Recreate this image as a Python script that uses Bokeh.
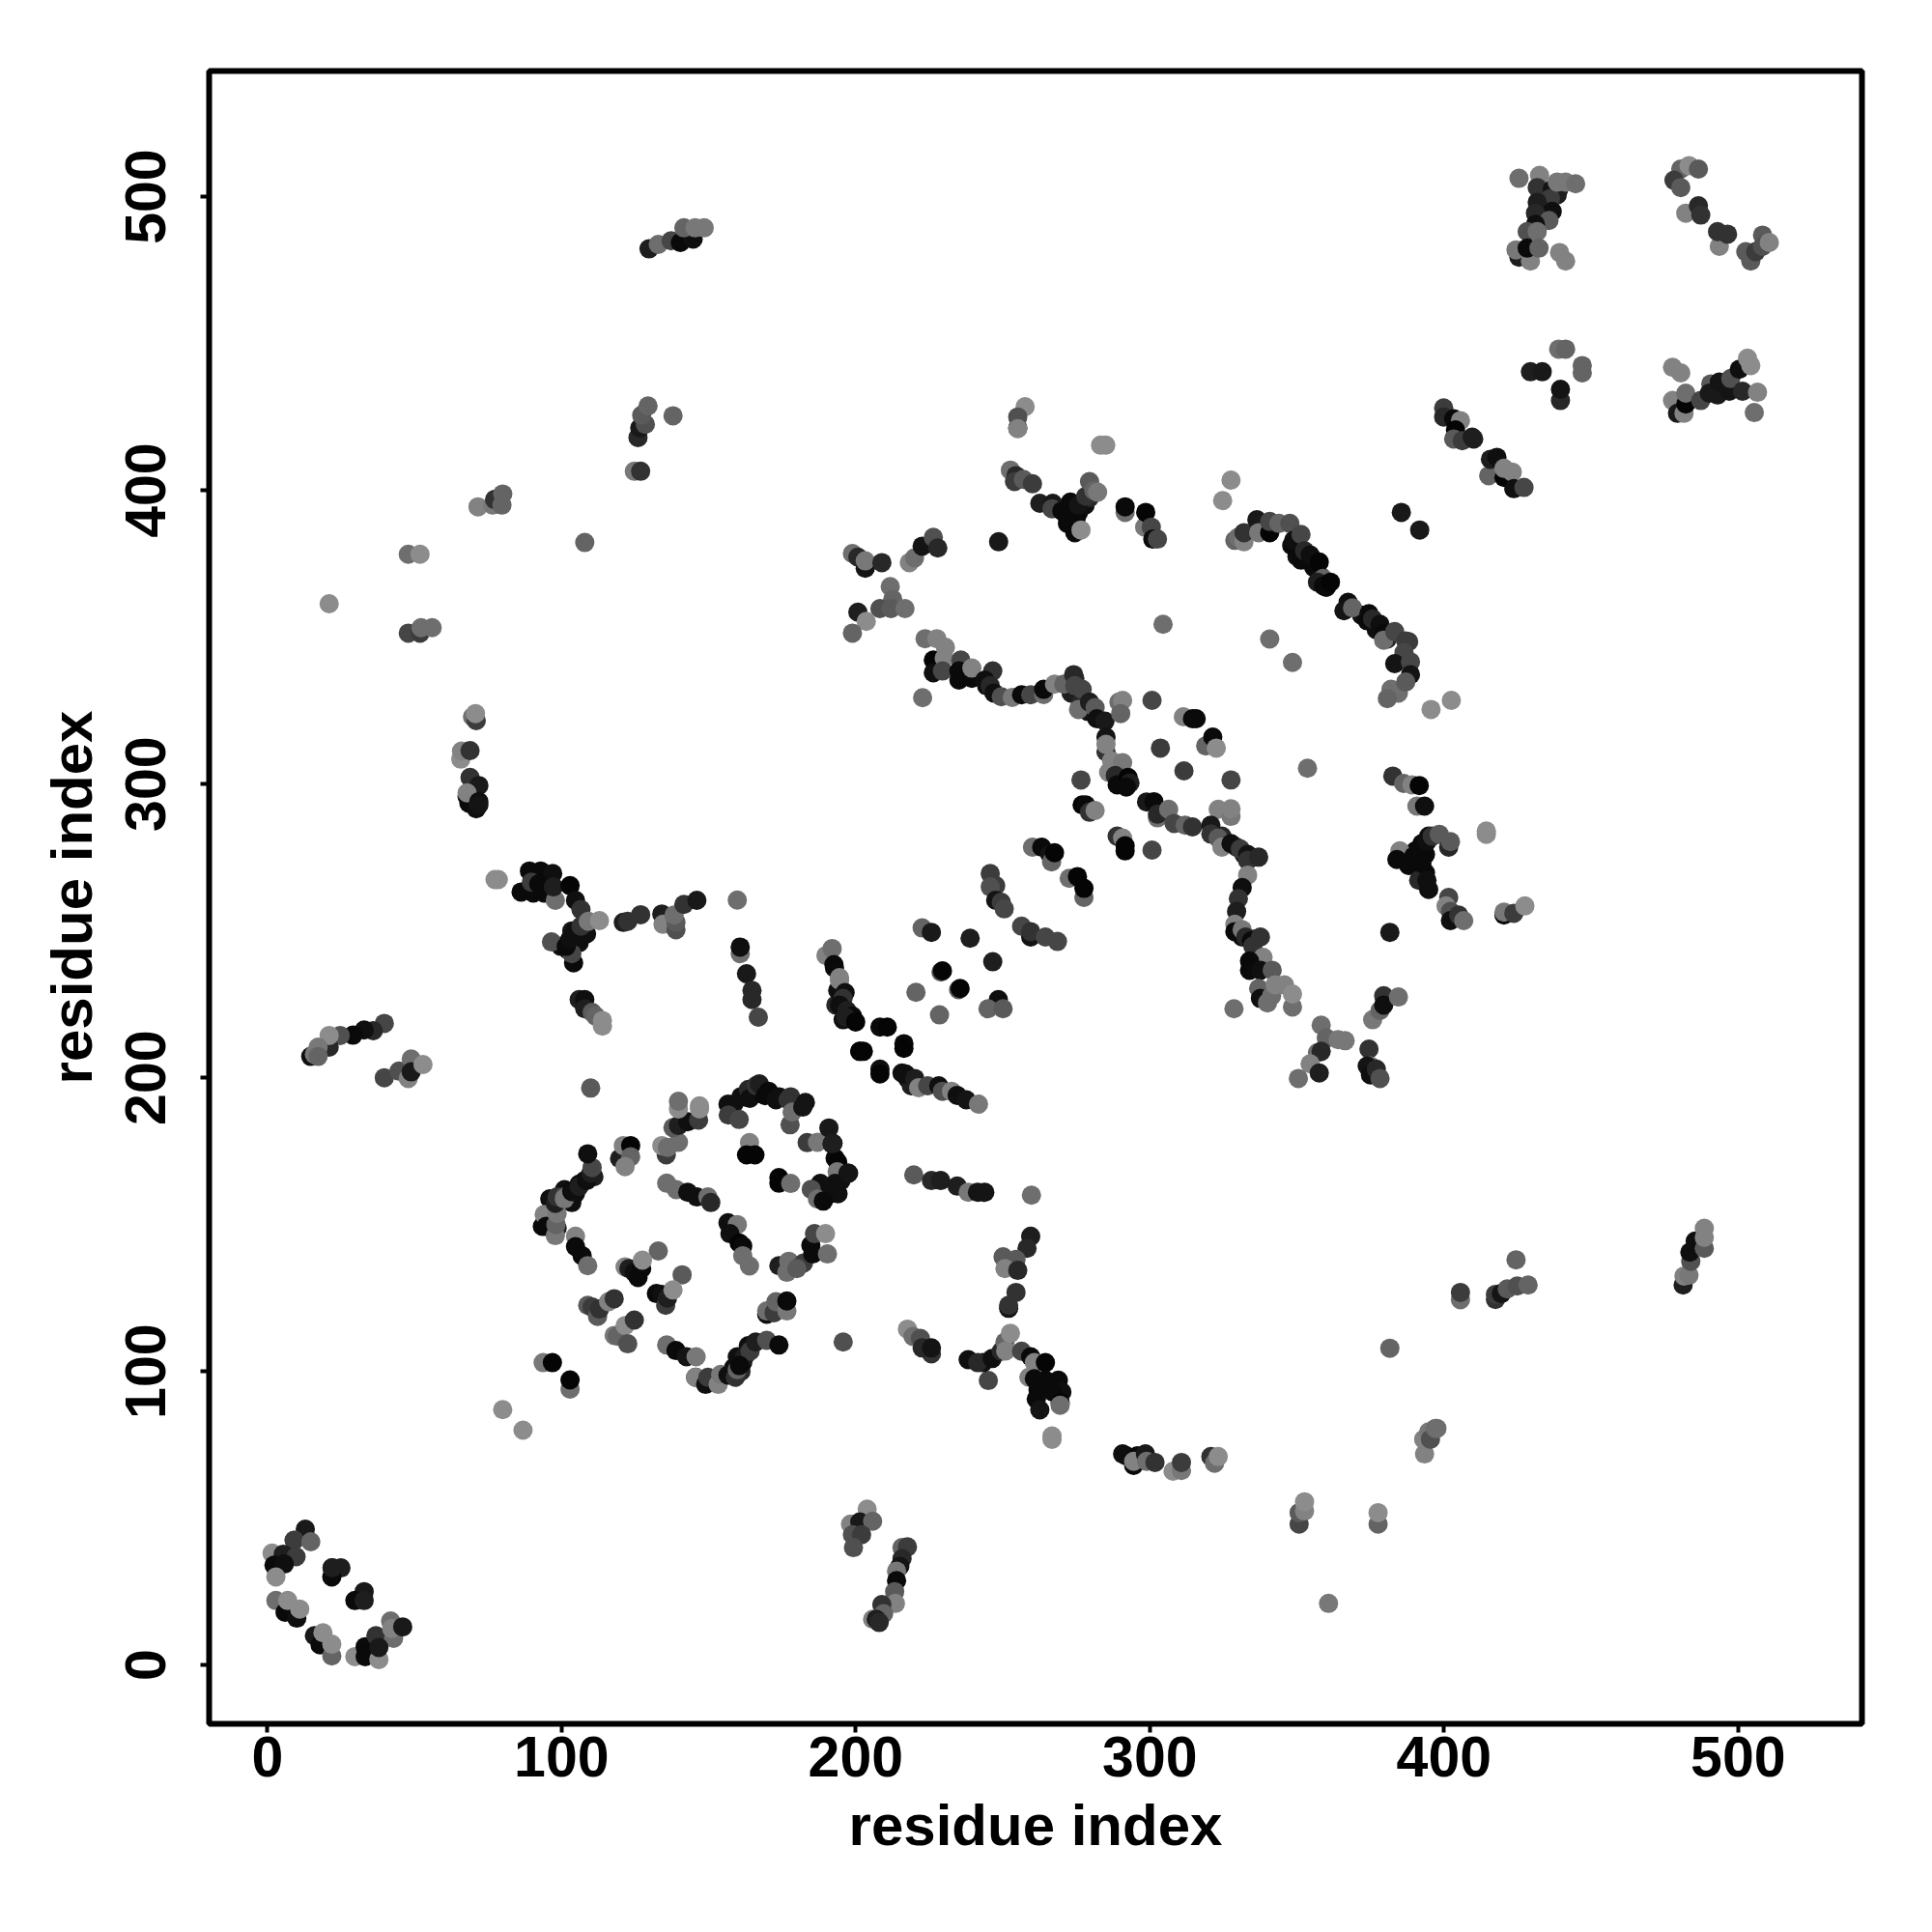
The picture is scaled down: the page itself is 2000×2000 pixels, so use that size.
from bokeh.plotting import figure
from bokeh.models import ColumnDataSource, FixedTicker, Range1d
from bokeh.embed import file_html
from bokeh.resources import INLINE

# (x residue, y residue, grey level 0-255), drawn in order
dense_under = [(96,158.75,15),(101,161.9,15),(104.75,160.6,15),(107.9,165,15),(111,166.25,30),(103.5,157.5,15),(97.9,152.5,40),(98.5,148.75,30),(93.5,149.4,10),
 (188,164,15),(190.5,160,15),(192,163,40),(195,165,15),(194,160.5,15),(156.6,191,15),(162.25,193.5,15),(159.75,105,15),(163.5,108.75,15),(158.5,101.25,15),(161,100,40),
 (99.75,244.75,15),(102.25,243.5,10),(106,246,15),(108.5,249,15),(103.5,250,20),(270,393.75,10),(273,396,10),(275.75,392.5,15),(278,395,15),(279.5,397.5,40),(272,388.75,10),(275,390.6,10),
 (390.3,277.25,10),(392.5,279.75,10),(394.8,282.25,15),(389,273.5,10),(391.4,274.75,10),(393.7,276,10),(391.4,271,10),(393.7,269.75,10),
 (348.25,381.25,15),(350,377.5,15),(353.25,376.25,15),(355.75,373.75,10),(358.25,370.6,15),(360,367,10),(372,357.5,15),(373.9,355.6,10),(377,352.5,15),(380.75,349.4,40),
 (274.5,336,40),(277,329,40),(278.9,324.75,20),(273.25,331,30),(276.4,327.25,40),(244.5,333.5,15),(324.5,282.25,40),(329.5,278.5,40),(332,276,30),(329.5,249.75,15),(331.4,247.9,15),(335.75,247.25,30),
 (433.4,498.75,20),(435.7,497.5,30),(434.5,493,20),(432.8,491.25,30),(439,502.5,40),(195.75,219.75,15),(193.25,224.75,40),(193.9,229.75,15),(215.75,201.6,15),(217.6,199.75,15),(218.9,197.25,30)]
corner_a = [(12.9,46.25,25),(9.1,42.5,110),(9.1,42.5,60),(14.75,42,100),(1.6,38.1,140),(5.4,37.75,30),(9.75,36.9,60),(2.25,34,10),(5.75,34.4,15),(2.9,30,140),
 (22,33.1,30),(25,33.1,30),(21.9,30,10),(22,33.1,30),(32.9,25,25),(29.75,22,10),(32.9,22,30),(2.9,22,110),(6,18,10),(10,16,15),(6.9,22,140),(11,19.1,140),
 (16,10,25),(17.9,6.9,10),(18.9,11,140),(21.9,3.1,100),(21.9,7.1,140),(29.75,2.9,140),(33.25,6.25,10),(33.25,2.9,10),(37.9,1.9,140),(36.9,10,50),(42.9,9.1,110),(37.9,6,25),(41.9,15,110),(42.25,12.5,130),(46,13,25)]
strays_a = [(80,87,140),(86.9,80,140),(93.75,103,120),(96.9,103,5),(102.9,94,110),(102.9,97.1,5),(107.9,382.25,100),(47.9,378.25,110),(51.9,378.25,140),(21,361.4,140),(109.9,196.5,90),
 (222.75,329.4,110),(353.6,305.4,110),(304.5,354.4,110),(340.75,349.4,110),(348.5,341.4,110),(381.6,249.5,25),(360.75,21,120),(381.6,107.9,100),(248.6,382.5,25),(327.6,403.5,140),(324.75,396.5,140),(395.6,325.4,140),(402.5,328.5,140),(391.75,386.5,25),(385.5,392.5,25),(300.75,328.5,70),(303.6,312.25,60),(311.6,304.5,60),(327.6,301.4,70),(276.6,301.4,70),(300.75,277.5,70),(328.6,223.5,110)]
loop_left = [(94.1,153.4,130),(94.75,149.4,10),(97.9,146.25,120),(98.1,150,100),(98.5,153.75,120),(97.9,157.25,30),(98.5,159.4,50),(101,159.4,90),(101,158.75,120),(103.5,161.25,10),(104.1,161.25,15),(106,163.75,10),(106,163,30),(108.5,165,15),(110,167.5,30),(110.4,169.4,70),(108.9,174.1,15),
 (104.75,146,130),(104.75,142.5,10),(107,139.4,10),(108.9,136,110),(119.75,172.5,30),(121,176.9,130),(123.5,176.9,5),(123.5,173.1,100),(121.6,169.75,130)]
loop_top_a = [(135.6,173.75,60),(134.1,176.9,140),(136,176.25,110),(139.75,178,110),(137.9,183,90),(139.75,183.75,30),(142.9,185,15),(146.6,185.6,60),(139.75,189.4,140),(146.9,189.4,140),(139.75,192,110),(146.9,190.4,140)]
loop_mid = [(135.75,164.1,110),(139,161.9,110),(142.9,161,15),(146,159.4,15),(149.75,159.4,110),(150.75,157.5,40),(156.6,150.6,15),(159.75,150,120),(157.25,146.9,15),(160.4,143.75,5),(161.6,142.75,10),(161.6,139.4,110),(163.9,135.9,110),
 (163.9,177.9,130),(162.9,173.75,5),(165.75,173.75,5),(173.9,166,5),(173.9,164.1,5),(177.9,164,110),(132.9,141,100),(141,132.9,90)]
inner_a = [(121.6,135.6,130),(122.9,135,30),(124.75,133.75,15),(126,132,10),(127.25,135,10),(127.5,137.9,140),(132.25,126.5,10),(134.1,126.25,15),(135.4,122.5,60),(136,125,30),(137.9,127.75,140),
 (108.9,122.5,90),(110.4,121.9,60),(112.25,118.75,90),(112.9,121.25,50),(116,123.75,130),(117.9,124.75,50),(117.9,112.25,120),(119,112,100),(121.6,115.6,140),(124.75,117.5,50),(122.5,109.4,80)]
loop_bottom = [(135.75,109,110),(138.9,107.1,10),(142.5,105,20),(145.75,105,120),(145.6,98,20),(145.6,98,130),(149,95.6,15),(149.75,98,60),(153.25,95.6,130),(154.1,99,120),(156.6,98.75,15),(159.1,98,50),(159.75,100.6,100),(161.6,103.1,15),(162.25,105,30),(164.1,106.9,60),(160.5,102,10),(166,110,30),(169.75,110.6,80),(173.9,109,10)]
loop_right = [(169.75,119.5,15),(169.75,120.6,110),(172.25,120,60),(172.9,123.75,100),(176.6,120.6,120),(176.6,124,10),(173.9,136,30),(176.6,133.75,110),(177.25,137.5,110),(182.25,136.9,60),(180,135,90),(185.4,140,10),(184.75,143,10),(186,146.9,70),(189.75,146.9,140),(190.4,140,110),
 (183.5,177.9,60),(187,178,120),(190.9,182.9,25),(192.3,177.7,20),(192,177.5,30),(193,172.6,10),(193.9,171.25,5),(193.7,168,120),(197.4,167.5,15),(193,164,15),(190,162,15),(188.5,159.9,15),(184.9,162,80),(187,158.7,110),(189,158,10)]
loop_top_b = [(158.5,191,15),(156.7,187.3,60),(160.4,185.8,70),(161,193.5,15),(163.5,196,40),(164,193,15),(166.2,197.3,50),(167.25,197.9,30),(169.2,193.9,10),(170.4,195.4,10),(172.9,192.5,15),(174,193.5,15),(177,192.5,50),(177.9,193.5,50),(177.7,184,80),(178.4,188.3,110),(182,190,20),(182.9,191.6,20)]
left_upper = [(47.9,351.4,70),(51.9,351.4,60),(52.25,353.25,110),(56,353.25,110),(69.75,322.9,110),(71,321.6,60),(70.75,324,140),(65.75,308.5,140),(66,311.25,130),(68.9,311.4,50),(68.9,302.25,50),(71.9,299.5,25),(67.9,295.75,10),(68.5,293.5,10),(67.9,297,130),(71.9,294,15),(71,291.6,15),(71.9,292.9,20)]
mid_left = [(77.4,267.5,140),(78.5,267.5,140),(89.1,270.4,10),(92.9,270.4,10),(97,269.5,15),(86.25,263.25,10),(90.4,262.9,10),(89.75,266.6,60),(92.25,266,10),(94.1,262.9,10),(97.9,260.4,110),(97.25,265,30),(102.9,265.4,5),(104.75,260.4,15),(106.6,257.25,50),
 (96.6,246.25,80),(104.1,239.1,10),(103.5,242.25,70),(101.6,244.75,10),(102.9,247.25,15),(104.75,249.75,15),(106.6,251.6,50),(109.1,253.25,120),(112.9,253.5,140),
 (121,252.9,30),(122.5,253.25,50),(126.9,255.5,50),(134.1,255.75,30),(134.5,252.25,130),(138.9,250.4,80),(138.9,252.9,90),(138.25,255.4,110),(141.6,259,50),(146,260.4,25),(159.75,260.5,110),(160.75,242.25,110),(160.75,244.5,15),(162.9,235.4,25),(164.75,229.75,40),(164.75,226.6,40),(166.9,220.6,70),
 (106,226.6,30),(107.9,226.6,15),(107.9,223.5,30),(110.4,222.25,90),(111.6,221,100),(113.9,219.5,140),(113.9,217.6,140)]
left_strand = [(39.75,218.5,70),(36,216,40),(32.9,216.25,15),(29.1,214.5,10),(24.75,214.4,80),(21,210.4,40),(21,214.4,140),(17.25,210.4,120),(14.75,207.25,15),(16,208,120),(17.25,207.25,100),(39.75,200,70),(44.75,202.25,80),(47.9,199.75,130),(48.9,206.4,110),(48.9,202,25),(52.9,204.5,140)]
diag_b = [(189.9,241.6,130),(192,244,110),(192.8,237.4,10),(192.6,238.5,10),(194.5,233.2,130),(194.5,234.1,130),(196.4,229,15),(195.7,227,50),(194.5,224.75,15),(197,222.9,30),(198.9,221,10),(196.6,220.6,30),(200,219,5),(208.25,217.25,10),(210.75,217.25,5),(201.4,209,30),(201.4,209,5),(202.6,209,5),(216.4,211.6,10),(216.4,210,5),(208.25,202.9,15),(208.25,201.3,5),
 (217,201.25,15),(220.1,199.75,30),(221.4,196.6,130),(224.5,197.25,70),(228.25,197.25,15),(229.5,195.4,80),(232.6,195.4,130),(234.5,194,15),(237.6,192.5,20),(241.75,191,120)]
cross_pts = [(222.6,251,100),(225.75,249.5,25),(238.9,247.5,30),(246.6,239.5,30),(229,236,90),(229.5,236.4,5),(235,230,90),(235.5,230.4,5),(220.5,229.1,100),(228.5,221.4,100),(248.5,226.6,15),(245,223.5,100),(250.1,223.5,90),
 (245.75,269.5,60),(247.6,265.4,60),(245.75,265,80),(247.6,260.4,20),(249.5,259.75,60),(250.5,257.5,70),(256.4,251.6,70),(259.5,247.9,20),(259.5,249.75,50),(264.5,247.9,70),(268.6,246.4,70),
 (260.1,278.5,110),(263.25,278.5,10),(266,276,20),(266.6,273.5,100),(267.6,276.6,5),(272.6,267.9,110),(275.4,268.5,5),(277.6,261.4,100),(277.6,264.5,5),
 (288.9,282.25,50),(290.75,281.6,130),(291.6,279,5),(291.6,277.25,5),(277,292.9,5),(278.25,292.9,10),(279.5,290.4,50),(281.4,291,130)]
ridge = [(223.6,349.5,110),(227.6,349.5,130),(226.4,342.25,5),(226.4,337.9,15),(230.5,346.6,130),(230.1,342.9,130),(229.5,338.5,70),(235.75,342.25,70),(235.1,335.4,10),(235.1,338.5,10),(239.5,336,10),(239.5,339.5,130),(246.6,338.5,50),(243.9,335.4,15),(245.75,333.5,40),(247,331,15),(249.5,329.75,80),(253.25,329.5,120),(256.4,330.4,10),(259.5,330.4,70),(263.9,330.5,110),(263.9,332.25,10),(267.6,334,130),(270.75,334,100),(274.1,337.25,40),(274.5,333.5,70),(277,332.25,70),(275.75,325.4,110),(279.5,327.9,30),(281.4,326,90),(282,322.25,15),(284.75,321.4,25),
 (289.5,327.9,110),(290.75,328.5,130),(290.1,324,100),(285.1,316,20),(285.1,311,50),(285.1,313.5,130),(286,304,130),(287,307.9,130),(290.75,307.25,120),(288.25,302.9,40),(288.9,299.75,10),(292.6,302.25,5),(293.25,300.4,30),(292,299,10),
 (298.9,293.9,25),(301.4,294,10),(302.6,288.5,110),(302.6,289.75,40),(306.4,291.4,110),(308.25,286.6,70),(312,286,100),(314.5,285.4,50)]
ridge_b = [(311.4,322.9,130),(314.5,322.25,10),(315.75,322.25,10),(319,313,100),(321.4,316,10),(322.6,312.25,140),(323.25,291.4,130),(327.6,289,120),(327.6,291.6,130),(320.75,286,25),(320.75,283,50),(323.25,281.6,90),(324.5,278.5,130),(327.6,279.75,15),(330.75,277.9,60),(333.25,276,20),(333.25,274,50),(337,275.1,40),
 (333.25,269,130),(331.4,264.75,15),(330.1,261,50),(329.5,256.6,30),(328.9,252.25,130),(328.9,249.75,10),(331.4,250.4,120),(332.6,247.9,40),(334.5,246.6,10),(337.6,247.9,50),(335,244.75,50),(338.5,241,130),(333.9,239.75,10),(333.9,236.6,10),(337.6,236.6,15),(341.6,236.6,90),(337,230.4,100),(337.6,227,15),(341.4,227.9,110),(340,225.5,110),(342.6,231.6,130),(345.75,231.6,130),(348.5,224.1,110),(348.5,228.5,140)]
x_cross = [(358.25,217.9,110),(360,213.5,100),(357,208.5,110),(358.25,209,40),(364,213,120),(366.4,212.6,120),(354.5,204.75,130),(357.6,201.6,30),(350.5,199.75,110),(374.5,209.75,50),(375,204,120),(373.9,204,20),(375,201,15),(377,202.9,40),(378.25,199.75,80),
 (375.75,219.75,120),(379.5,227.9,50),(378.25,222.9,100),(379.5,224.75,15),(384.5,227.5,110)]
upper_a = [(198.9,378.5,110),(200.75,377.25,40),(203.25,373.5,20),(203.25,376,120),(208.9,375.4,40),(218.25,375.4,130),(220,377,110),(222.6,381,20),(226.4,384,80),(227.9,380.4,40),
 (211.75,367.25,110),(212.6,362.9,100),(208.25,359.75,80),(212,359.75,90),(216.75,359.75,110),(200.75,358.5,30),(203.6,355.4,140),(198.9,351.4,100)]
upper_b = [(257.6,428.5,140),(255.1,421.25,10),(255.1,425,80),(255.1,421,130),(283.25,415.4,140),(285,415.4,140),(252.6,406.9,110),(254.5,405,40),(254,403,60),(257,403.75,90),(260.1,402.25,60),(262.6,395.6,30),(267,395.6,25),(266.75,393.75,70),(270.1,393,10),(273.25,393.75,10),(272,390.6,10),(275.75,395,20),(278.25,398,50),(274.5,385.6,10),(276.6,386.5,140),(279.5,403,90),(281,400,100),(282.25,399.4,120),
 (291.6,392.5,110),(291.6,394.4,10),(298.25,387.5,120),(298.6,392.5,5),(300.5,387.5,70),(301,383.4,10),(302.6,383.4,70)]
ridge_c = [(328.9,383,100),(330,384,110),(332,382.5,130),(332,385.6,50),(336.4,390,25),(337,385.6,120),(340.75,385.6,5),(340.75,389.4,70),(343.9,388.75,100),(347.6,388.75,80),(348.9,381,10),(348.9,383,15),(351.4,385,70),(351.4,376.25,10),(352.6,379.4,40),(354.5,378,15),(357.6,375.6,5),(358.9,370,100),(357,368.75,30),(359,367.5,10),(361.4,368.75,5),
 (367.4,361.9,15),(366,359,20),(368.9,360,100),(374.5,358,10),(375.75,356.25,40),(378.25,354.4,15),(379.5,351.25,10),(379.5,349,110),(383.25,351.9,70),(388,348.5,60),(387,348.75,60),(386.4,344.75,70),(383.25,341,20),(388.6,341.6,70),(388.6,337.25,20),(382,332.25,110),(384.5,331,110),(380.75,329.1,100),(387,334.75,90)]
right_mid = [(382.6,302.7,50),(386.3,300.2,100),(389.1,299.75,130),(391.6,299.5,5),(390.8,292.5,120),(393.4,292.5,15),(385,277.25,130),(384,274.3,10),(388,272.25,10),(389.7,275.4,10),(391.4,267.25,40),(392,277.9,10),(392.5,272.9,10),(394.2,280.4,15),(394.2,267.25,15),(394.8,264.1,15),(396,282.25,50),(398.4,282.9,90),(401.6,278.5,40),(402.2,280.4,90),
 (414.4,282.9,140),(414.4,284,140),(401.6,261.4,70),(400.7,258.5,130),(402.2,256.6,80),(402.2,253.5,15),(405,255.4,50),(406.7,253.5,110),(420.4,255.4,10),(420.4,256.4,120),(423.75,256,60),(427.5,258.5,140)]
lower_right = [(192,177.5,30),(197.6,167.5,20),(219.75,166.9,90),(225.75,165,40),(228.9,165,30),(234.5,163.1,30),(238.25,161,120),(241.4,161,20),(243.9,161,20),(259.75,160,110),(259.5,146,30),(258.25,141.9,40),(254.5,138.1,90),(250.1,139,90),(250.75,135,130),(255.1,134.4,40),(254.5,126.9,50),(252,121.5,20),(252,122.5,50),
 (217.6,114.4,140),(219.5,111.9,110),(222,111.25,80),(225.75,106,50),(222.6,108,40),(225.75,108,20),(195.75,110,80),(238.25,104,15),(245.1,96.9,70),(243.25,103,15),(241.5,103,40),(246.4,104.4,15),(249.5,106.9,40),(250.75,110,100),(251,107,130),(252.6,113,140),(256.4,106.9,70),(259.5,105,10),(260.75,103,130),(264.5,103,5),
 (258.9,98,130),(260.75,97.5,10),(264.5,97,10),(268.9,97,10),(270.1,93,15),(262,93.75,10),(267,93,10),(261.4,90.6,10),(262.6,86.9,20),(269.5,89.4,5),(269.5,88.5,110),(266.75,76.9,140),(266.75,78,140)]
low_line = [(290.75,71.9,15),(292,71.25,15),(294.5,68,10),(295.75,71.25,10),(294.5,69.4,130),(298.5,71.9,25),(298.9,69.4,110),(301.75,69,50),(307.9,66,140),(310.75,66.25,120),(310.75,69,60),(320.75,71,50),(322,68.75,110),(323.25,71,140),
 (350.75,48,70),(350.75,51.9,90),(352.6,52.5,130),(352.6,55.6,140),(377.6,48,100),(377.6,51.9,140)]
low_strand = [(203.9,53.1,140),(198.25,48,130),(201.4,48.75,25),(205.75,49,100),(198.9,44.4,80),(202,44.4,60),(199.25,40,80),(215.75,40,100),(217.6,40.25,60),(215.75,36.25,40),(215,33.6,20),(213.9,32,120),(213.9,28.75,10),(213.25,25,90),(213.5,21,130),(208.9,20.6,50),(209.5,17.5,100),(205.75,15.6,130),(207,15.6,30),(208,14.5,40)]
far_low = [(424.5,138,100),(405.6,124.4,110),(405.6,126.9,60),(417.5,124.5,50),(417.5,126.25,60),(419.5,126.5,20),(421.5,128.1,90),(424.9,129.1,80),(428.6,129.4,100),
 (481.3,129.4,30),(481.6,132.5,130),(483.3,132.75,120),(483.9,137.5,80),(483.6,140.6,15),(485.4,144.4,15),(488.5,141.9,90),(488.5,145.6,130),(488.5,148.75,130),
 (393.4,71.9,130),(393.1,76.9,130),(394.8,79.4,120),(395.4,76.9,80),(397.1,80.6,110),(397.6,80.6,110)]
top_a = [(425.5,506.25,110),(432.5,507.25,130),(431.7,503.1,50),(436.8,502.5,20),(438.5,500.6,30),(436.2,499.4,60),(438.5,505,120),(441.35,505,120),(444.75,504.4,110),(431.7,498.1,30),(436.8,495,15),(431.1,494.4,40),(435.7,491.9,90),(431.1,490.6,15),(428.3,488.1,80),(431.7,488.1,110),(425.5,479.4,30),(424.5,481.9,120),(429.4,478.1,130),(428.3,482.5,10),(432.3,482.5,100),(439.3,481,130),(441.35,478.1,130)]
top_b = [(480.5,509.4,100),(478.2,505.6,60),(480.5,503.1,90),(483.3,510.6,140),(486.5,509.4,90),(482.2,494.4,130),(486.5,496.9,40),(487.3,493.75,50),(493.6,483.1,130),(493,488.1,50),(496.4,487.25,50),(502.6,481.25,90),(504.3,478.1,90),(506,481.25,60),(508.3,486.9,90),(508.3,483.1,80),(510.6,484.4,130)]
mid_c = [(439,448.1,110),(441.35,448.1,100),(429.4,440.4,30),(433.4,440.4,25),(447,440,100),(447,442.5,100),(439.6,430.6,40),(439.6,434.4,20)]
mid_d = [(477.7,441.9,130),(480.5,440,130),(477.7,430.6,130),(479.4,426.25,25),(481.6,426.25,130),(482.2,429.4,5),(482.2,433.1,110),(487.3,430.6,70),(490.7,436.25,90),(490.2,433.1,25),(493,432.5,25),(493.6,436.9,20),(497,433.75,20),(497.5,438.1,80),(501.5,433.75,40),(500.4,441.25,15),(503.2,445,140),(504.3,442.5,140),(506.6,433.4,130),(505.5,426.5,110)]
diag_e = [(399.9,428.1,60),(399.9,425,40),(403.3,424.4,10),(405.6,423.75,130),(403.9,420.6,5),(403.3,417.5,90),(406.2,416.9,60),(409.6,418.1,30),(410.1,417.5,30),(415.2,405,100),(415.8,410.6,30),(418,411.25,15),(420.4,404.4,5),(420.4,407.5,130),(423.2,406.25,130),(423.75,400.6,15),(427.2,401,70)]
top_left = [(129.75,482.25,30),(132.9,483.75,110),(137.25,485,70),(140.4,484.4,10),(144.75,485.6,15),(141.6,489.4,100),(145.4,489.4,120),(148.5,489.4,120),
 (126,418,40),(126.6,421.25,25),(128.5,422.5,80),(127.25,425.6,90),(129.4,428.75,100),(137.9,425.4,100),(124.75,406.5,120),(126.9,406.5,50),
 (71.6,394.4,130),(76.6,395,120),(77.25,396.9,50),(79.75,395,100),(80,398.75,100)]

clusters = [dense_under, corner_a, strays_a, loop_left, loop_top_a, loop_mid, inner_a, loop_bottom, loop_right, loop_top_b, left_upper, mid_left, left_strand,
            diag_b, cross_pts, ridge, ridge_b, x_cross, upper_a, upper_b, ridge_c, right_mid, lower_right, low_line, low_strand, far_low,
            top_a, top_b, mid_c, mid_d, diag_e, top_left]
tick_values = [0, 100, 200, 300, 400, 500]
axis_title = "residue index"

pts = [pt for c in clusters for pt in c]
source = ColumnDataSource(dict(
    x=[a for a, _, _ in pts],
    y=[b for _, b, _ in pts],
    c=["#%02x%02x%02x" % (g, g, g) for _, _, g in pts],
))

p = figure(width=1984, height=1984, output_backend="svg", toolbar_location=None,
           x_range=Range1d(-19.8, 542.1), y_range=Range1d(-20.0, 542.8),
           min_border_left=216, min_border_right=57, min_border_top=73, min_border_bottom=200)
p.scatter("x", "y", source=source, size=20, fill_color="c", line_color=None)

p.grid.visible = False
p.outline_line_color = "black"
p.outline_line_width = 6
p.background_fill_color = "white"
for ax in (p.xaxis[0], p.yaxis[0]):
    ax.ticker = FixedTicker(ticks=tick_values)
    ax.axis_line_color = None
    ax.major_tick_line_color = "black"
    ax.major_tick_line_width = 4
    ax.major_tick_in = 0
    ax.major_tick_out = 9
    ax.minor_tick_line_color = None
    ax.major_label_text_font = "Liberation Sans"
    ax.major_label_text_font_style = "bold"
    ax.major_label_text_font_size = "59px"
    ax.major_label_text_color = "black"
    ax.axis_label = axis_title
    ax.axis_label_text_font = "Liberation Sans"
    ax.axis_label_text_font_style = "bold"
    ax.axis_label_text_font_size = "60px"
    ax.axis_label_text_color = "black"
p.xaxis[0].major_label_standoff = 4
p.xaxis[0].axis_label_standoff = 14
p.yaxis[0].major_label_orientation = "parallel"
p.yaxis[0].major_label_standoff = 36
p.yaxis[0].axis_label_standoff = 20

open("out.html", "w").write(file_html(p, INLINE))
